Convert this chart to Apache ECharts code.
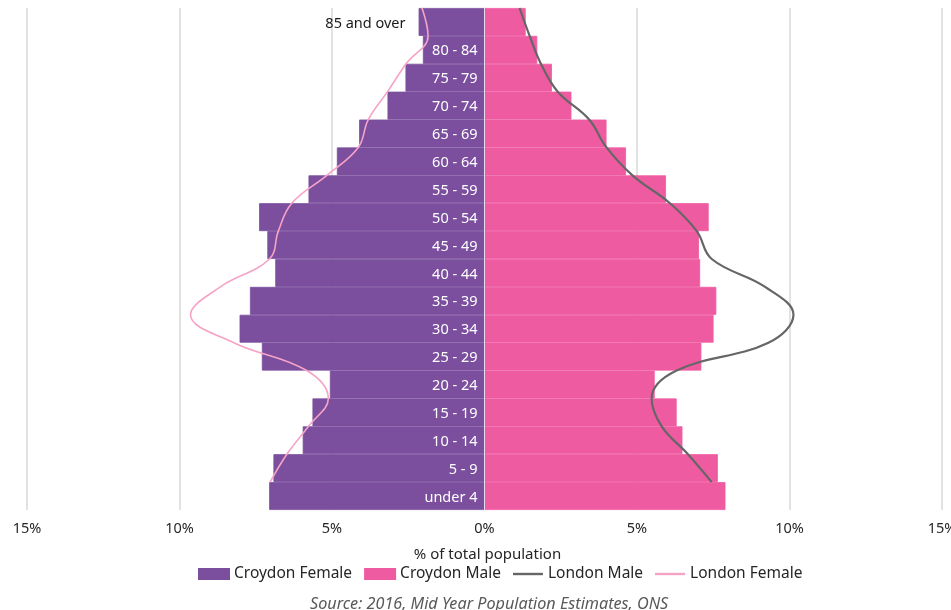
<!DOCTYPE html>
<html>
<head>
<meta charset="utf-8">
<script src="https://cdn.jsdelivr.net/npm/echarts@6/dist/echarts.min.js"></script>
<style>
html,body{margin:0;padding:0;background:#fff;}
#chart{width:951px;height:610px;}
</style>
</head>
<body>
<div id="chart"></div>
<script>
// Age bands, bottom to top
const categories = ['under 4','5 - 9','10 - 14','15 - 19','20 - 24','25 - 29','30 - 34','35 - 39','40 - 44','45 - 49','50 - 54','55 - 59','60 - 64','65 - 69','70 - 74','75 - 79','80 - 84','85 and over'];
// % of total population
const croydonFemale = [7.06, 6.92, 5.96, 5.64, 5.07, 7.30, 8.03, 7.69, 6.86, 7.12, 7.39, 5.77, 4.84, 4.11, 3.18, 2.59, 2.02, 2.16];
const croydonMale   = [7.90, 7.65, 6.49, 6.30, 5.58, 7.11, 7.51, 7.60, 7.07, 7.03, 7.35, 5.95, 4.64, 4.00, 2.85, 2.21, 1.73, 1.35];
const londonMale    = [7.45, 6.67, 5.81, 5.48, 6.30, 9.31, 10.13, 9.20, 7.45, 6.96, 6.08, 4.85, 4.00, 3.43, 2.40, 1.85, 1.48, 1.15];
const londonFemale  = [7.03, 6.48, 5.77, 5.12, 5.83, 8.22, 9.64, 8.66, 7.05, 6.76, 6.32, 5.17, 4.14, 3.81, 3.18, 2.57, 1.85, 2.05];
const xTicks = {min: -15, max: 15, interval: 5};

const FONT = 'Noto Sans';
const GRID_LEFT = 27, GRID_RIGHT = 9, W = 951;
// offset that moves the category axis from the grid's left edge to the 0% line
const zeroOffset = -((W - GRID_LEFT - GRID_RIGHT) * (0 - xTicks.min) / (xTicks.max - xTicks.min));
const LINE_ICON = 'path://M0,0H30V2.4H0Z';

const chart = echarts.init(document.getElementById('chart'));
const option = {
  backgroundColor: '#fff',
  animation: false,
  textStyle: {fontFamily: FONT},
  grid: {left: GRID_LEFT, right: GRID_RIGHT, top: 8, bottom: 100, containLabel: false, outerBoundsMode: 'none'},
  title: {
    text: 'Source: 2016, Mid Year Population Estimates, ONS',
    left: 305, top: 591,
    textStyle: {fontFamily: FONT, fontSize: 16.2, fontStyle: 'italic', fontWeight: 'normal', color: '#595959'}
  },
  legend: {
    top: 561, left: 193,
    itemWidth: 30, itemHeight: 10, itemGap: 12,
    textStyle: {fontFamily: FONT, fontSize: 15.5, color: '#262626'},
    data: [
      {name: 'Croydon Female', icon: 'rect'},
      {name: 'Croydon Male', icon: 'rect'},
      {name: 'London Male', icon: LINE_ICON},
      {name: 'London Female', icon: LINE_ICON}
    ]
  },
  xAxis: {
    type: 'value', min: xTicks.min, max: xTicks.max, interval: xTicks.interval,
    name: '% of total population', nameLocation: 'middle', nameGap: 37,
    nameTextStyle: {fontFamily: FONT, fontSize: 15, color: '#262626', padding: [0, 0, 0, 6]},
    axisLine: {show: false}, axisTick: {show: false},
    axisLabel: {formatter: v => Math.abs(v) + '%', color: '#262626', fontSize: 14.5, margin: 11},
    splitLine: {lineStyle: {color: '#d9d9d9', width: 1.5}}
  },
  yAxis: [
    {
      type: 'category', data: categories, z: 10, position: 'left', offset: zeroOffset,
      axisLine: {onZero: false, lineStyle: {color: '#e6e0ee', width: 1}},
      axisTick: {show: false},
      axisLabel: {
        fontSize: 14.5, margin: 7,
        formatter: (v, i) => i === categories.length - 1 ? '{d|' + v + '}' : '{w|' + v + '}',
        rich: {
          w: {color: '#ffffff', fontSize: 14.5, fontFamily: FONT, padding: [3, 0, 0, 0]},
          d: {color: '#1a1a1a', fontSize: 14.5, fontFamily: FONT, padding: [3, 72, 0, 0]}
        }
      }
    },
    {type: 'value', min: 0, max: categories.length, show: false}
  ],
  series: [
    {
      name: 'Croydon Female', type: 'bar', stack: 'pop', yAxisIndex: 0,
      barCategoryGap: '0%',
      itemStyle: {color: '#7b4f9e', borderColor: '#7b4f9e', borderWidth: 0.8},
      data: croydonFemale.map(v => -v)
    },
    {
      name: 'Croydon Male', type: 'bar', stack: 'pop', yAxisIndex: 0,
      barCategoryGap: '0%',
      itemStyle: {color: '#ef5ba1', borderColor: '#ef5ba1', borderWidth: 0.8},
      data: croydonMale
    },
    {
      name: 'London Male', type: 'line', yAxisIndex: 1, smooth: 0.4,
      symbol: 'none', lineStyle: {color: '#666666', width: 2.2}, itemStyle: {color: '#666666'},
      data: londonMale.map((v, i) => [v, i + 1])
    },
    {
      name: 'London Female', type: 'line', yAxisIndex: 1, smooth: 0.4,
      symbol: 'none', lineStyle: {color: '#f5a3c7', width: 1.6}, itemStyle: {color: '#f5a3c7'},
      data: londonFemale.map((v, i) => [-v, i + 1])
    }
  ]
};
chart.setOption(option);
</script>
</body>
</html>
